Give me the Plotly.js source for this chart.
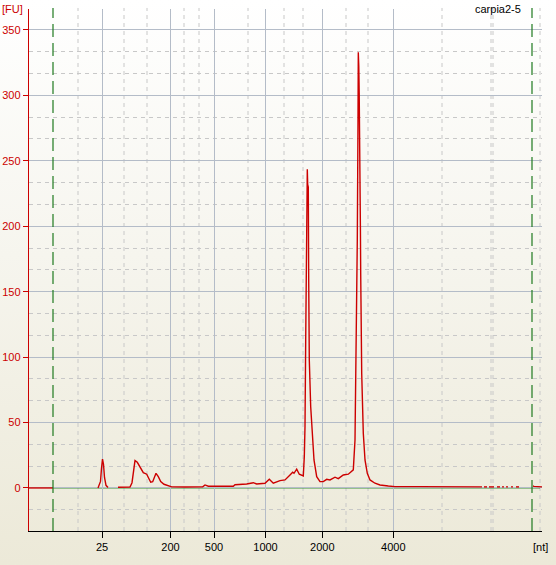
<!DOCTYPE html>
<html>
<head>
<meta charset="utf-8">
<script src="https://cdn.plot.ly/plotly-3.0.1.min.js"></script>
<style>
html,body{margin:0;padding:0;}
body{width:556px;height:565px;background:linear-gradient(to bottom,#ffffff 0%,#f6f5ee 45%,#ece9d8 100%);}
#chart{width:556px;height:565px;}
</style>
</head>
<body>
<div id="chart"></div>
<script>
// Migration time (s) and fluorescence (FU)
const timeSec = [18.0,20.4,null,24.9,25.15,25.25,25.35,25.45,25.55,25.7,25.9,null,26.9,28.1,28.3,28.5,28.6,28.83,29.1,29.43,29.77,30.0,30.17,30.37,30.7,30.93,31.17,31.5,31.93,32.27,33.6,35.37,35.6,35.93,38.43,38.6,39.77,40.43,40.77,41.6,42.03,42.43,43.1,43.6,44.1,44.37,44.5,44.77,45.03,45.43,45.53,45.6,45.67,45.76,45.83,45.87,45.93,45.97,46.03,46.17,46.33,46.5,46.77,47.1,47.43,47.77,48.1,48.6,48.93,49.43,49.93,50.43,50.6,50.7,50.83,50.9,50.93,50.98,51.02,51.1,51.14,51.17,51.27,51.43,51.6,51.83,52.1,52.6,53.1,53.93,54.6,57.0,60.0,63.3,null,63.5,63.8,null,64.0,64.5,null,64.8,65.1,null,65.3,65.5,null,65.7,65.9,null,66.2,66.4,null,66.7,67.0,null,68.4,68.5,69.3];
const fluorescence = [0,0,null,0,5,15,22,18,8,2,0.3,null,0.5,0.6,4,16,20.9,19.6,16.3,11.7,10.5,7.4,4.4,4.8,11.2,8.6,4.8,2.8,1.5,0.8,0.7,0.8,2.3,1.3,1.3,2.5,3,4,3,3.6,6.6,3.6,5.6,6.1,9.9,12,11.2,14.3,10.5,9.2,23.9,46.8,113,200,243.5,232,230,159,97.8,62,36.7,21.4,8.6,4.8,4.8,6.6,6.1,8.2,7.1,9.9,10.5,13.8,36.7,87.6,189.5,280,333,322,302,256,200,164,87.6,41.8,21.4,11.2,6.1,3.6,2.3,1.5,1.0,1.0,0.9,0.8,null,0.8,0.8,null,0.8,0.8,null,0.8,0.8,null,0.8,0.8,null,0.8,0.8,null,0.8,0.8,null,0.8,0.8,null,1.5,1.2,0.8];

// Size ladder tick positions (migration time) and labels
const ladderTimes = [25.3,32.15,36.5,41.65,47.33,54.43];
const ladderLabels = ['25','200','500','1000','2000','4000'];
const minorGridTimes = [22.9,27.5,29.8,33.5,35.0,39.9,43.5,45.4,49.7,51.9,59.3,64.2,64.4,69.1];
const markerTimes = [20.4,68.3];

const font = 'Tahoma, "Liberation Sans", Arial, sans-serif';
const red = 'rgb(204,0,0)';

const shapes = [];
minorGridTimes.forEach(t => shapes.push({type:'line',xref:'x',yref:'paper',x0:t,x1:t,y0:0,y1:1.002,
  line:{color:'#c8c8c8',width:1,dash:'4px,4px'},layer:'below'}));
shapes.push({type:'line',xref:'x',yref:'y',x0:20.4,x1:69.1,y0:0,y1:0,line:{color:'#228B22',width:1},layer:'below'});
markerTimes.forEach(t => shapes.push({type:'line',xref:'x',yref:'paper',x0:t,x1:t,y0:0,y1:1.002,
  line:{color:'#1e7a1e',width:1.2,dash:'13px,6px'},layer:'above'}));

const data = [{
  x: timeSec, y: fluorescence, type:'scatter', mode:'lines', connectgaps:false,
  line:{color:red,width:1.4}, hoverinfo:'skip'
}];

const layout = {
  width:556, height:565,
  margin:{l:29,r:14,t:9,b:34,pad:0},
  paper_bgcolor:'rgba(0,0,0,0)', plot_bgcolor:'rgba(0,0,0,0)',
  showlegend:false,
  font:{family:font,size:11,color:'#000'},
  xaxis:{
    range:[18,69.3], tickmode:'array', tickvals:ladderTimes, ticktext:ladderLabels,
    showline:true, linecolor:'#000', linewidth:1.2, mirror:false,
    ticks:'outside', ticklen:6, tickcolor:'#000', tickfont:{family:font,size:11,color:'#000'},
    showgrid:true, gridcolor:'#b4bcc8', gridwidth:1, zeroline:false, fixedrange:true
  },
  yaxis:{
    range:[-32.9,366], tickmode:'linear', tick0:0, dtick:50,
    showline:true, linecolor:red, linewidth:1.2,
    ticks:'outside', ticklen:5, tickcolor:red, tickfont:{family:font,size:11,color:red},
    showgrid:true, gridcolor:'#b4bcc8', gridwidth:1, zeroline:false,
    minor:{tick0:0, dtick:50/3, showgrid:true, gridcolor:'#c8c8c8', griddash:'4px,4px', gridwidth:1, ticks:''},
    fixedrange:true
  },
  shapes: shapes,
  annotations:[
    {text:'[FU]',xref:'paper',yref:'paper',x:-29/513,y:1,xanchor:'left',yanchor:'middle',yshift:0,showarrow:false,font:{family:font,size:11,color:red}},
    {text:'carpia2-5',xref:'paper',yref:'paper',x:1-(19/513),y:1,xanchor:'right',yanchor:'middle',showarrow:false,font:{family:font,size:11,color:'#000'}},
    {text:'[nt]',xref:'paper',yref:'paper',x:1+(8/513),y:0,yshift:-16,xanchor:'right',yanchor:'middle',showarrow:false,font:{family:font,size:11,color:'#000'}}
  ]
};

Plotly.newPlot('chart', data, layout, {displayModeBar:false, staticPlot:true});
</script>
</body>
</html>
